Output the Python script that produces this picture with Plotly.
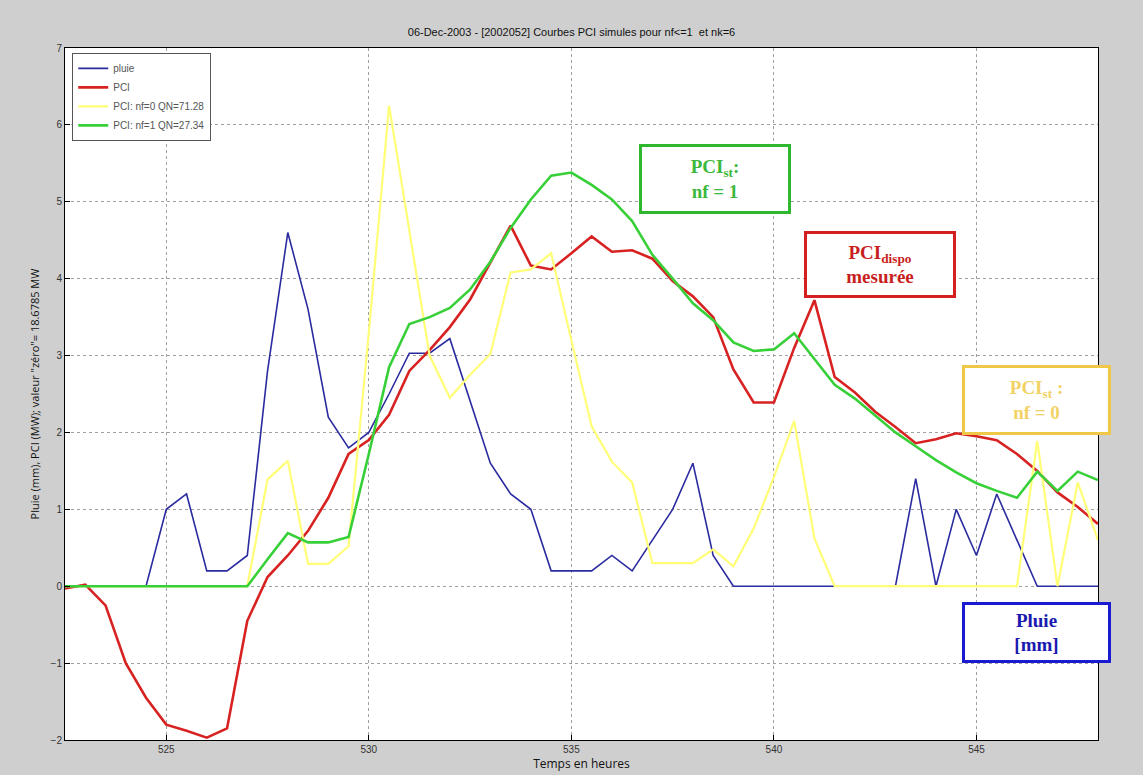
import plotly.graph_objects as go

# time axis: half-hour steps from 522.5 h to 548 h
temps = [522.5 + 0.5 * i for i in range(52)]

pluie = [0, 0, 0, 0, 0, 1.0, 1.2, 0.2, 0.2, 0.4,
         2.8, 4.6, 3.6, 2.2, 1.8, 2.0, 2.5, 3.03, 3.03, 3.22,
         2.4, 1.6, 1.2, 1.0, 0.2, 0.2, 0.2, 0.4, 0.2, 0.6,
         1.0, 1.6, 0.4, 0, 0, 0, 0, 0, 0, 0,
         0, 0, 1.4, 0, 1.0, 0.4, 1.2, 0.6, 0, 0,
         0, 0]

pci = [-0.03, 0.02, -0.25, -1.0, -1.45, -1.8, -1.88, -1.97, -1.85, -0.45,
       0.12, 0.4, 0.72, 1.15, 1.72, 1.9, 2.23, 2.8, 3.07, 3.37,
       3.73, 4.2, 4.69, 4.17, 4.12, 4.33, 4.55, 4.35, 4.37, 4.26,
       3.97, 3.77, 3.5, 2.82, 2.39, 2.39, 3.1, 3.72, 2.72, 2.52,
       2.27, 2.07, 1.86, 1.91, 1.99, 1.95, 1.9, 1.72, 1.5, 1.22,
       1.03, 0.81]

pci_nf0 = [0, 0, 0, 0, 0, 0, 0, 0, 0, 0,
           1.39, 1.63, 0.29, 0.29, 0.52, 3.3, 6.25, 4.6, 3.0, 2.45,
           2.75, 3.02, 4.08, 4.12, 4.33, 3.2, 2.08, 1.62, 1.35, 0.3,
           0.3, 0.3, 0.48, 0.26, 0.75, 1.42, 2.15, 0.62, 0, 0,
           0, 0, 0, 0, 0, 0, 0, 0, 1.89, 0,
           1.35, 0.6]

pci_nf1 = [0, 0, 0, 0, 0, 0, 0, 0, 0, 0,
           0.35, 0.69, 0.57, 0.57, 0.64, 1.72, 2.85, 3.41, 3.5, 3.62,
           3.86, 4.22, 4.66, 5.03, 5.34, 5.38, 5.22, 5.03, 4.75, 4.31,
           4.0, 3.68, 3.46, 3.17, 3.06, 3.08, 3.29, 2.95, 2.62, 2.44,
           2.22, 2.0, 1.82, 1.64, 1.48, 1.34, 1.24, 1.15, 1.49, 1.24,
           1.49, 1.38]

titre = "06-Dec-2003 - [2002052] Courbes PCI simules pour nf<=1  et nk=6"
label_y = 'Pluie (mm), PCI (MW); valeur "zéro"= 18.6785 MW'
label_x = "Temps en heures"

series = [
    ("pluie", pluie, "#2b2ba0", 1.6),
    ("PCI", pci, "#d82222", 2.6),
    ("PCI: nf=0 QN=71.28", pci_nf0, "#ffff78", 2.2),
    ("PCI: nf=1 QN=27.34", pci_nf1, "#38d038", 2.6),
]

fig = go.Figure()
for name, vals, col, w in series:
    fig.add_trace(go.Scatter(x=temps, y=vals, name=name, mode="lines",
                             line=dict(color=col, width=w)))

axis_common = dict(showline=True, linecolor="black", linewidth=1, mirror=True,
                   ticks="inside", ticklen=5, tickcolor="black",
                   showgrid=True, gridcolor="#a0a0a0", griddash="dot", gridwidth=1,
                   zeroline=False, tickfont=dict(size=10, color="#333", family="Liberation Sans"))

fig.update_xaxes(range=[522.5, 548], tickvals=[525, 530, 535, 540, 545],
                 title=dict(text=label_x, font=dict(size=12, color="#111"), standoff=0),
                 **axis_common)
fig.update_yaxes(range=[-2, 7], dtick=1,
                 title=dict(text=label_y, font=dict(size=11, color="#111"), standoff=8),
                 **axis_common)

# text boxes (MATLAB-style annotations)
boxes = [
    ("<b>PCI<sub>st</sub>:<br>nf = 1</b>", 0.629, 0.810, 146, 64, "#2fb82f", "#3cb83c"),
    ("<b>PCI<sub>dispo</sub><br>mesurée</b>", 0.789, 0.687, 146, 61, "#d42020", "#c81e1e"),
    ("<b>PCI<sub>st</sub> :<br>nf = 0</b>", 0.9405, 0.492, 143, 64, "#f0c848", "#f2d264"),
    ("<b>Pluie<br>[mm]</b>", 0.9405, 0.156, 143, 55, "#1a1ad0", "#1a1ab0"),
]
for txt, bx, by, bw, bh, bcol, tcol in boxes:
    fig.add_annotation(text=txt, xref="paper", yref="paper", x=bx, y=by,
                       xanchor="center", yanchor="middle", showarrow=False,
                       width=bw, height=bh, bgcolor="white", bordercolor=bcol,
                       borderwidth=3, borderpad=0,
                       font=dict(family="Liberation Serif", size=19, color=tcol))

fig.update_layout(
    width=1143, height=775,
    margin=dict(l=65, r=45, t=48, b=32),
    paper_bgcolor="#cfcfcf", plot_bgcolor="white",
    title=dict(text=titre, x=0.5, xanchor="center", y=1 - 32 / 775, yanchor="middle",
               font=dict(size=11, color="#111", family="Liberation Sans")),
    legend=dict(x=0.007, y=0.993, xanchor="left", yanchor="top",
                bgcolor="white", bordercolor="#555", borderwidth=1,
                font=dict(size=10, color="#555", family="Liberation Sans"),
                tracegroupgap=0, itemwidth=30),
    showlegend=True,
)

fig.write_html("out.html", config={"displayModeBar": False},
               post_script="document.body.style.margin='0';")
